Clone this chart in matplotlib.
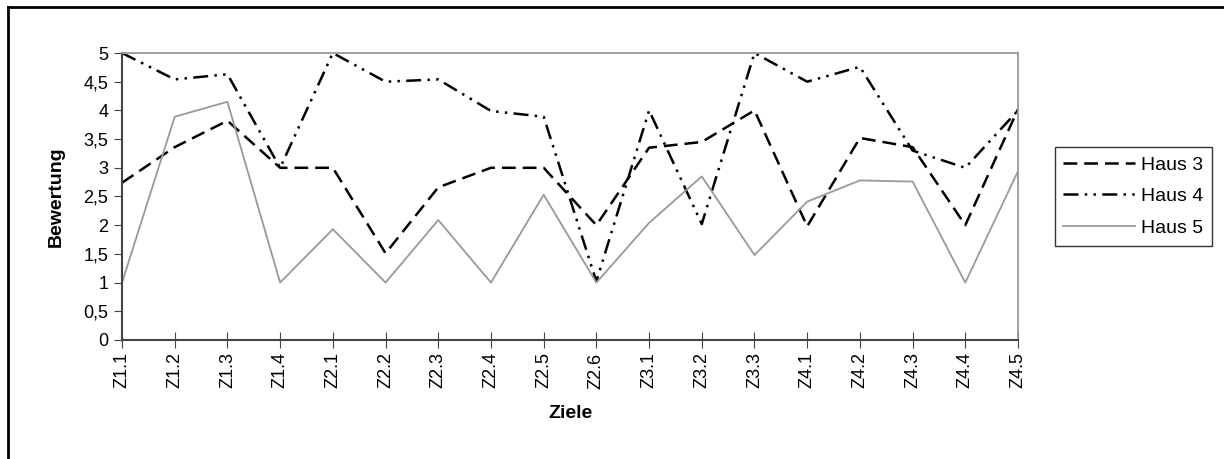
import matplotlib
matplotlib.use("Agg")
import matplotlib.pyplot as plt
from matplotlib.lines import Line2D
from matplotlib.ticker import FuncFormatter

plt.rcParams['font.family'] = ['Liberation Sans', 'DejaVu Sans']

# Data
ziele = ['Z1.1', 'Z1.2', 'Z1.3', 'Z1.4', 'Z2.1', 'Z2.2', 'Z2.3', 'Z2.4', 'Z2.5',
         'Z2.6', 'Z3.1', 'Z3.2', 'Z3.3', 'Z4.1', 'Z4.2', 'Z4.3', 'Z4.4', 'Z4.5']
haus3 = [2.74, 3.36, 3.82, 3.0, 3.0, 1.51, 2.66, 3.0, 3.0,
         2.0, 3.35, 3.45, 4.0, 1.98, 3.52, 3.36, 2.0, 4.02]
haus4 = [5.0, 4.54, 4.63, 3.0, 5.0, 4.5, 4.54, 3.99, 3.89,
         1.02, 4.0, 2.02, 5.0, 4.5, 4.76, 3.3, 3.0, 4.0]
haus5 = [1.0, 3.89, 4.15, 1.0, 1.93, 1.0, 2.09, 1.0, 2.53,
         1.0, 2.04, 2.85, 1.48, 2.41, 2.78, 2.76, 1.0, 2.94]

fig = plt.figure(figsize=(12.24, 4.59), dpi=100)
ax = fig.add_axes([0.0997, 0.2593, 0.7320, 0.6252])

x = range(len(ziele))
ax.plot(x, haus3, color='black', lw=1.8, ls=(0, (5.5, 2.8)), label='Haus 3')
ax.plot(x, haus4, color='black', lw=1.8, ls=(0, (6, 2.5, 1, 2.5, 1, 2.5)), label='Haus 4')
ax.plot(x, haus5, color='#999999', lw=1.3, ls='-', label='Haus 5')

ax.set_xlim(0, len(ziele) - 1)
ax.set_ylim(0, 5)
ax.set_yticks([0, 0.5, 1, 1.5, 2, 2.5, 3, 3.5, 4, 4.5, 5])
ax.yaxis.set_major_formatter(FuncFormatter(lambda v, p: ('%g' % v).replace('.', ',')))
ax.set_xticks(list(x))
ax.set_xticklabels(ziele, rotation=90, fontsize=13)
ax.tick_params(axis='y', labelsize=13, direction='out', length=6, pad=4, color='#444444')
ax.tick_params(axis='x', direction='inout', length=12, pad=3, color='#444444')

for s in ['top', 'right']:
    ax.spines[s].set_color('#999999')
    ax.spines[s].set_linewidth(1.3)
for s in ['left', 'bottom']:
    ax.spines[s].set_color('#444444')
    ax.spines[s].set_linewidth(1.5)

ax.set_ylabel('Bewertung', fontsize=14, fontweight='bold', labelpad=13)
ax.set_xlabel('Ziele', fontsize=14, fontweight='bold', labelpad=12)

leg = ax.legend(loc='center left', bbox_to_anchor=(1.041, 0.5), frameon=True,
                fancybox=False, edgecolor='black', fontsize=14,
                handlelength=3.7, handletextpad=0.3, borderpad=0.45,
                labelspacing=0.72, borderaxespad=0)
leg.get_frame().set_linewidth(1.0)

# outer frame of the chart (top and left only)
fig.add_artist(Line2D([8 / 1224, 1], [1 - 6.5 / 459, 1 - 6.5 / 459],
                      transform=fig.transFigure, color='black', lw=2))
fig.add_artist(Line2D([8 / 1224, 8 / 1224], [0, 1 - 6.5 / 459],
                      transform=fig.transFigure, color='black', lw=2))

fig.savefig('out.png', dpi=100)
